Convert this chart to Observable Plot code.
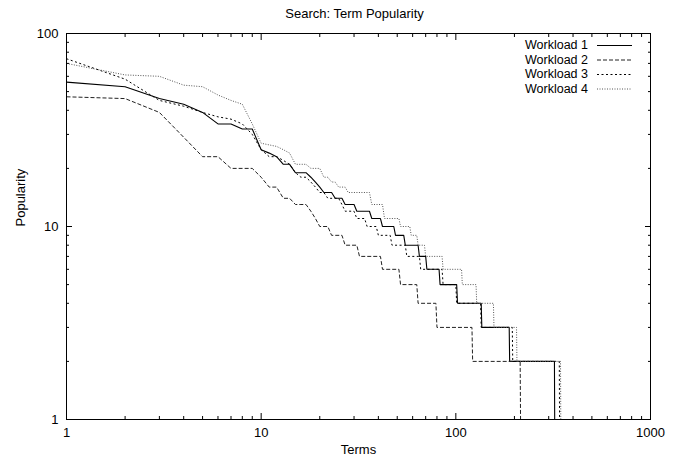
<!DOCTYPE html>
<html>
<head>
<meta charset="utf-8">
<script src="https://cdn.jsdelivr.net/npm/d3@7"></script>
<script src="https://cdn.jsdelivr.net/npm/@observablehq/plot@0.6"></script>
<style>
html, body { margin: 0; padding: 0; background: #fff; }
#chart { width: 677px; height: 459px; }
</style>
</head>
<body>
<div id="chart"></div>
<script>
// ---- data (term rank -> popularity; breakpoints of each step) ----
const chartTitle = "Search: Term Popularity";
const xTitle = "Terms";
const yTitle = "Popularity";
const seriesNames = ["Workload 1", "Workload 2", "Workload 3", "Workload 4"];

const terms1 = [1,2,3,4,5,6,7,8,9,10,11,12,13,14,15,16,17,18,19,20,21,23,24,26,27,30,31,36,37,41,42,48,49,54,55,64,65,70,71,82,83,101,102,135,136,188,189,321,322,1000];
const pop1   = [56,53,46,43,39,34,34,32,32,25,24,23,21,21,19,19,19,18,17,16,15,15,14,14,13,13,12,12,11,11,10,10,9,9,8,8,7,7,6,6,5,5,4,4,3,3,2,2,1,1];

const terms2 = [1,2,3,4,5,6,7,8,9,10,11,12,13,14,15,16,17,18,19,20,22,23,26,27,31,32,41,42,51,52,63,64,79,80,121,122,214,215,1000];
const pop2   = [47,46,39,29,23,23,20,20,20,18,16,16,14,14,13,13,13,12,11,10,10,9,9,8,8,7,7,6,6,5,5,4,4,3,3,2,2,1,1];

const terms3 = [1,2,3,4,5,6,7,8,9,10,11,12,13,14,15,16,17,18,19,20,21,22,25,26,27,30,31,34,35,39,40,46,47,55,56,65,66,85,86,100,101,134,135,195,196,340,341,1000];
const pop3   = [74,58,45,42,39,37,36,34,30,25,23,23,22,21,19,18,18,17,16,15,15,14,14,13,12,12,11,11,10,10,9,9,8,8,7,7,6,6,5,5,4,4,3,3,2,2,1,1];

const terms4 = [1,2,3,4,5,6,7,8,9,10,12,13,14,15,17,18,20,21,22,23,24,25,27,28,36,37,42,43,51,52,58,59,63,64,69,70,85,86,107,108,127,128,156,157,205,206,345,346,1000];
const pop4   = [70,61,60,54,53,48,45,43,34,27,26,25,24,21,21,20,20,18,18,17,17,16,16,15,15,13,13,11,11,10,10,9,9,8,8,7,7,6,6,5,5,4,4,3,3,2,2,1,1];

const xMajorTicks = [1, 10, 100, 1000];
const xMinorTicks = [2,3,4,5,6,7,8,9,20,30,40,50,60,70,80,90,200,300,400,500,600,700,800,900];
const yMajorTicks = [1, 10, 100];
const yMinorTicks = [2,3,4,5,6,7,8,9,20,30,40,50,60,70,80,90];

// ---- styles ----
const FONT = "'Liberation Sans', Arial, Helvetica, sans-serif";
const seriesStyles = [
  { stroke: "#000", dash: null,      width: 1.1 },
  { stroke: "#222", dash: "4,2",     width: 1 },
  { stroke: "#000", dash: "2,2.5",   width: 1 },
  { stroke: "#555", dash: "1,1.5",   width: 1 }
];

const allTerms = [terms1, terms2, terms3, terms4];
const allPops = [pop1, pop2, pop3, pop4];
const tables = allTerms.map((t, s) => t.map((term, i) => ({ series: seriesNames[s], term, pop: allPops[s][i] })));

const W = 677, H = 459;
const M = { top: 33, right: 27, bottom: 40, left: 66 };

const marks = [];
// lines
tables.forEach((rows, s) => {
  const st = seriesStyles[s];
  marks.push(Plot.line(rows, {
    x: "term", y: "pop",
    stroke: st.stroke, strokeWidth: st.width,
    strokeDasharray: st.dash || undefined,
    strokeLinecap: "butt", strokeLinejoin: "miter",
    curve: "linear"
  }));
});
// frame
marks.push(Plot.frame({ stroke: "#000", strokeWidth: 1 }));
// inward ticks on all four sides (gnuplot style)
for (const anchor of ["bottom", "top"]) {
  marks.push(Plot.axisX(xMajorTicks, { anchor, tickSize: -6, fill: "none", label: null, stroke: "#000" }));
  marks.push(Plot.axisX(xMinorTicks, { anchor, tickSize: -3, fill: "none", label: null, stroke: "#000" }));
}
for (const anchor of ["left", "right"]) {
  marks.push(Plot.axisY(yMajorTicks, { anchor, tickSize: -6, fill: "none", label: null, stroke: "#000" }));
  marks.push(Plot.axisY(yMinorTicks, { anchor, tickSize: -3, fill: "none", label: null, stroke: "#000" }));
}
// tick labels
marks.push(Plot.axisX(xMajorTicks, { anchor: "bottom", tickSize: 0, tickPadding: 8, label: null, tickFormat: d => String(d), fill: "#000" }));
marks.push(Plot.axisY(yMajorTicks, { anchor: "left", tickSize: 0, tickPadding: 8, label: null, tickFormat: d => String(d), fill: "#000" }));
// titles
marks.push(Plot.text([chartTitle], { text: d => d, frameAnchor: "top", dx: -4, dy: -20, lineAnchor: "middle", fill: "#000" }));
marks.push(Plot.text([xTitle], { text: d => d, frameAnchor: "bottom", dy: 30, lineAnchor: "middle", fill: "#000" }));
marks.push(Plot.text([yTitle], { text: d => d, frameAnchor: "left", dx: -46, rotate: -90, lineAnchor: "middle", fill: "#000" }));

const plot = Plot.plot({
  width: W, height: H,
  marginTop: M.top, marginRight: M.right, marginBottom: M.bottom, marginLeft: M.left,
  style: { fontFamily: FONT, fontSize: "13px", background: "#fff", color: "#000" },
  x: { type: "log", domain: [1, 1000] },
  y: { type: "log", domain: [1, 100] },
  marks
});

// legend (gnuplot key, top-right inside the frame)
const svg = d3.select(plot);
const key = svg.append("g").attr("font-family", FONT).attr("font-size", 12.5).attr("fill", "#000");
const frameRight = W - M.right;
const sampleRight = frameRight - 18, sampleLeft = sampleRight - 35, textRight = sampleLeft - 9;
const rowH = 14.5, firstRow = M.top + 12;
seriesNames.forEach((name, i) => {
  const yy = firstRow + i * rowH;
  const st = seriesStyles[i];
  key.append("text").attr("x", textRight).attr("y", yy).attr("dy", "0.35em")
    .attr("text-anchor", "end").text(name);
  key.append("line").attr("x1", sampleLeft).attr("x2", sampleRight)
    .attr("y1", yy + 0.5).attr("y2", yy + 0.5)
    .attr("stroke", st.stroke).attr("stroke-width", st.width)
    .attr("stroke-dasharray", st.dash);
});

document.getElementById("chart").appendChild(plot);
</script>
</body>
</html>
